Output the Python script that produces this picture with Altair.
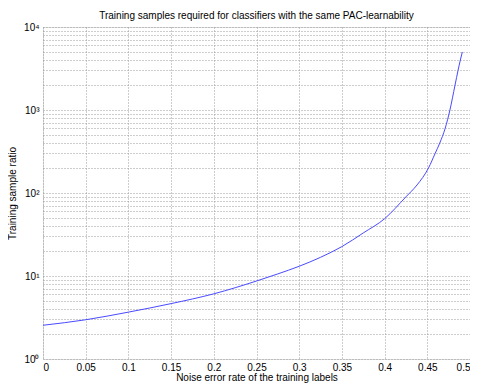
import altair as alt
import pandas as pd

# Noise error rate (x) and training sample ratio (y)
noise_rate = [0, 0.05, 0.1, 0.15, 0.2, 0.25, 0.275, 0.3, 0.325, 0.35, 0.375, 0.4,
              0.425, 0.438, 0.4514, 0.4592, 0.4646, 0.4709, 0.4765, 0.4825, 0.486,
              0.4887, 0.491]
sample_ratio = [2.55, 2.97, 3.67, 4.65, 6.1, 8.7, 10.6, 13.1, 16.8, 22.6, 33, 49,
                90, 125, 200, 300, 400, 600, 1000, 2000, 3000, 4000, 5000]

x_ticks = [0, 0.05, 0.1, 0.15, 0.2, 0.25, 0.3, 0.35, 0.4, 0.45, 0.5]
y_grid = [m * 10 ** k for k in range(4) for m in range(1, 10)] + [10000]

df = pd.DataFrame({"x": noise_rate, "y": sample_ratio})

FONT = "Liberation Sans"

label_expr = ("datum.value == 1 ? '10⁰' : datum.value == 10 ? '10¹' : "
              "datum.value == 100 ? '10²' : datum.value == 1000 ? '10³' : "
              "datum.value == 10000 ? '10⁴' : ''")

chart = alt.Chart(df).mark_line(color="#4a4aff", strokeWidth=1, interpolate="monotone").encode(
    x=alt.X("x:Q",
            scale=alt.Scale(domain=[0, 0.5], nice=False, zero=False),
            axis=alt.Axis(values=x_ticks, format="~g",
                          title="Noise error rate of the training labels",
                          grid=True, gridDash=[1, 2], gridColor="#9a9a9a", gridWidth=1,
                          tickSize=0, domain=False, labelPadding=3,
                          labelFont=FONT, labelFontSize=10, labelColor="#000",
                          labelOverlap=False, labelBound=False, labelFlush=True,
                          titleFont=FONT, titleFontSize=10, titleFontWeight="normal",
                          titleColor="#000", titlePadding=0)),
    y=alt.Y("y:Q",
            scale=alt.Scale(type="log", domain=[1, 10000], nice=False),
            axis=alt.Axis(values=y_grid, labelExpr=label_expr,
                          title="Training sample ratio",
                          grid=True, gridDash=[1, 2], gridColor="#9a9a9a", gridWidth=1,
                          tickSize=0, domain=False, labelPadding=4,
                          labelFont=FONT, labelFontSize=10, labelColor="#000",
                          labelOverlap=False, labelBound=False, labelFlush=False,
                          titleFont=FONT, titleFontSize=10, titleFontWeight="normal",
                          titleColor="#000", titlePadding=6)),
).properties(
    width=427,
    height=332,
    title=alt.TitleParams("Training samples required for classifiers with the same PAC-learnability",
                          font=FONT, fontSize=10, fontWeight="normal", color="#000",
                          anchor="middle", offset=1),
    autosize=alt.AutoSizeParams(type="none"),
    padding={"left": 35, "top": 19, "right": 0, "bottom": 25},
).configure_view(
    stroke="#000", strokeWidth=1
).configure(background="white")

chart.save("out.html", embed_options={"renderer": "svg", "actions": False})
